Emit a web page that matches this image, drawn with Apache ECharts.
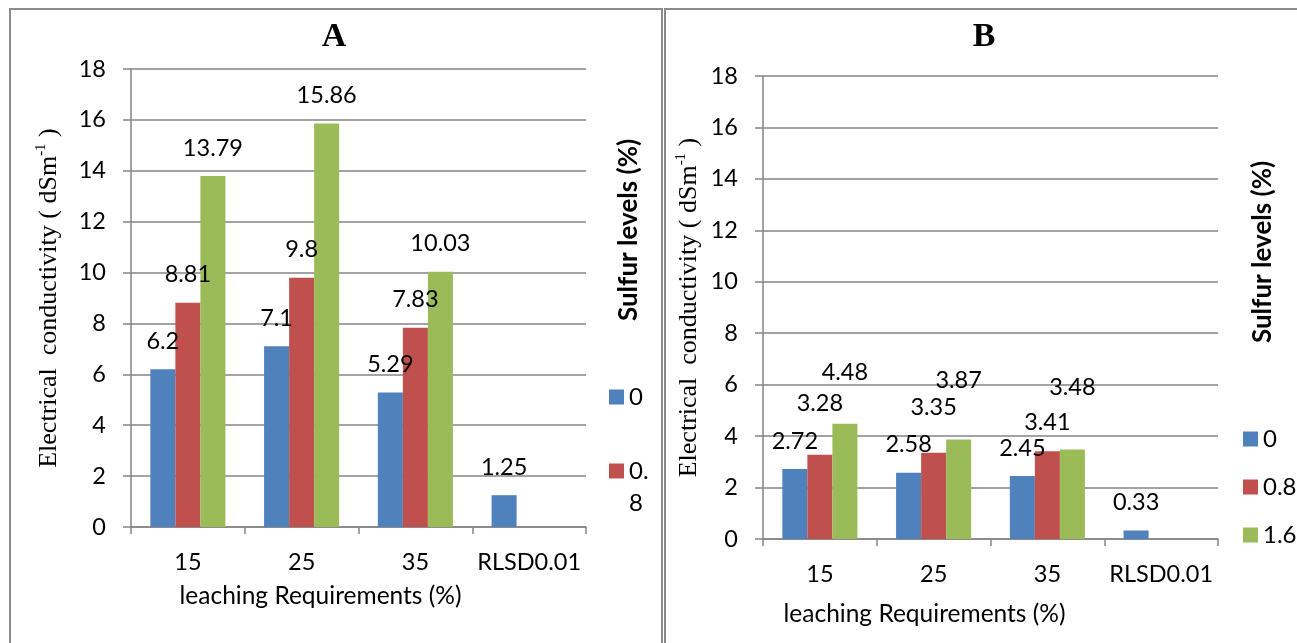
<!DOCTYPE html>
<html>
<head>
<meta charset="utf-8">
<script src="https://cdn.jsdelivr.net/npm/echarts@6/dist/echarts.min.js"></script>
<style>
html,body{margin:0;padding:0;background:#fff;}
#chart{width:1297px;height:643px;}
</style>
</head>
<body>
<div id="chart"></div>
<script>
// ---- data ----
const categories = ['15', '25', '35', 'RLSD0.01'];
const seriesNames = ['0', '0.8', '1.6'];
const yTicks = [0, 2, 4, 6, 8, 10, 12, 14, 16, 18];

const panelA_s0  = [6.2, 7.1, 5.29, 1.25];
const panelA_s08 = [8.81, 9.8, 7.83, null];
const panelA_s16 = [13.79, 15.86, 10.03, null];

const panelB_s0  = [2.72, 2.58, 2.45, 0.33];
const panelB_s08 = [3.28, 3.35, 3.41, null];
const panelB_s16 = [4.48, 3.87, 3.48, null];

const titleA = 'A';
const titleB = 'B';
const xName = 'leaching Requirements (%)';
const legendTitle = 'Sulfur levels (%)';

// ---- styling ----
const colors = ['#4F81BD', '#C0504D', '#9BBB59'];
const gridColor = '#858585';
const sans = 'Lato, "Liberation Sans", sans-serif';
const serif = '"Liberation Serif", "DejaVu Serif", serif';
const numSize = 23.5;

// label lifts for panel B (manually moved labels in the original)
const liftB = {
  '0.8': [40, 34, 18, 18],
  '1.6': [40, 48, 51, 18]
};

function yAxisCfg(gridIndex, nameGap) {
  return {
    type: 'value', gridIndex: gridIndex, min: yTicks[0], max: yTicks[yTicks.length - 1], interval: 2,
    name: '{a|Electrical  conductivity ( dSm}{s|-1}{a| )}',
    nameLocation: 'middle', nameGap: nameGap,
    nameTextStyle: {
      fontFamily: serif, fontSize: 26, color: '#000',
      rich: {
        a: { fontFamily: serif, fontSize: 26, color: '#000', lineHeight: 30 },
        s: { fontFamily: serif, fontSize: 15, color: '#000', lineHeight: 30, verticalAlign: 'top' }
      }
    },
    axisLine: { show: true, lineStyle: { color: gridColor, width: 1.5 } },
    axisTick: { show: true, length: 8, lineStyle: { color: gridColor, width: 1.5 } },
    axisLabel: { fontFamily: sans, fontSize: numSize, color: '#000', margin: 25 },
    splitLine: { show: true, lineStyle: { color: gridColor, width: 1.5 } }
  };
}

function xAxisCfg(gridIndex, nameGap, shift) {
  return {
    type: 'category', gridIndex: gridIndex, data: categories,
    name: xName, nameLocation: 'middle', nameGap: nameGap,
    nameTextStyle: { fontFamily: sans, fontSize: 24.5, color: '#000', padding: [0, shift * 2, 0, 0] },
    axisLine: { show: true, lineStyle: { color: gridColor, width: 1.5 } },
    axisTick: { show: true, length: 7, alignWithLabel: false, lineStyle: { color: gridColor, width: 1.5 } },
    axisLabel: { interval: 0, fontFamily: sans, fontSize: numSize, color: '#000', margin: 23 }
  };
}

function barSeries(name, idx, data, axisIndex, lifts) {
  return {
    type: 'bar', name: name, xAxisIndex: axisIndex, yAxisIndex: axisIndex,
    barGap: '0%', barCategoryGap: '34%',
    itemStyle: { color: colors[idx] },
    label: { show: true, position: 'top', distance: 16, fontFamily: sans, fontSize: numSize, color: '#000' },
    data: data.map(function (v, i) {
      if (v === null) return null;
      if (lifts) return { value: v, label: { distance: lifts[i] - 1 } };
      return v;
    })
  };
}

const chart = echarts.init(document.getElementById('chart'), null, { renderer: 'canvas' });

const legendText = { fontFamily: sans, fontSize: 24, color: '#000', lineHeight: 28 };

const option = {
  animation: false,
  backgroundColor: '#fff',
  grid: [
    { left: 131, top: 69, width: 455, height: 458 },
    { left: 763, top: 76, width: 455, height: 463 }
  ],
  xAxis: [xAxisCfg(0, 57, 38), xAxisCfg(1, 63, 66)],
  yAxis: [yAxisCfg(0, 67), yAxisCfg(1, 59)],
  legend: [
    {
      data: ['0'], orient: 'vertical', left: 609, top: 383, padding: 0,
      itemWidth: 15, itemHeight: 15, icon: 'rect', selectedMode: false,
      textStyle: legendText
    },
    {
      data: ['0.8'], orient: 'vertical', left: 609, top: 423, padding: 0,
      itemWidth: 15, itemHeight: 15, icon: 'rect', selectedMode: false,
      formatter: function (n) { return ' \n0.\n8'; },
      textStyle: { fontFamily: sans, fontSize: 24, color: '#000', lineHeight: 32 }
    },
    {
      data: seriesNames, orient: 'vertical', left: 1243, top: 425, padding: 0,
      itemWidth: 15, itemHeight: 15, itemGap: 20, icon: 'rect', selectedMode: false,
      textStyle: legendText
    }
  ],
  graphic: [
    { type: 'rect', shape: { x: 10, y: 9, width: 652, height: 660 }, style: { fill: 'none', stroke: '#8c8c8c', lineWidth: 2 }, silent: true },
    { type: 'rect', shape: { x: 665, y: 9, width: 700, height: 660 }, style: { fill: 'none', stroke: '#8c8c8c', lineWidth: 2 }, silent: true },
    { type: 'text', x: 334, y: 37, style: { text: titleA, font: 'bold 34px "Liberation Serif", serif', fill: '#000', textAlign: 'center', textVerticalAlign: 'middle' } },
    { type: 'text', x: 984, y: 37, style: { text: titleB, font: 'bold 34px "Liberation Serif", serif', fill: '#000', textAlign: 'center', textVerticalAlign: 'middle' } },
    { type: 'text', x: 629, y: 230, rotation: Math.PI / 2, style: { text: legendTitle, font: 'bold 26px Lato, "Liberation Sans", sans-serif', fill: '#000', textAlign: 'center', textVerticalAlign: 'middle' } },
    { type: 'text', x: 1263, y: 252, rotation: Math.PI / 2, style: { text: legendTitle, font: 'bold 26px Lato, "Liberation Sans", sans-serif', fill: '#000', textAlign: 'center', textVerticalAlign: 'middle' } }
  ],
  series: [
    barSeries(seriesNames[0], 0, panelA_s0, 0),
    barSeries(seriesNames[1], 1, panelA_s08, 0),
    barSeries(seriesNames[2], 2, panelA_s16, 0),
    barSeries(seriesNames[0], 0, panelB_s0, 1),
    barSeries(seriesNames[1], 1, panelB_s08, 1, liftB['0.8']),
    barSeries(seriesNames[2], 2, panelB_s16, 1, liftB['1.6'])
  ]
};

chart.setOption(option);
</script>
</body>
</html>
